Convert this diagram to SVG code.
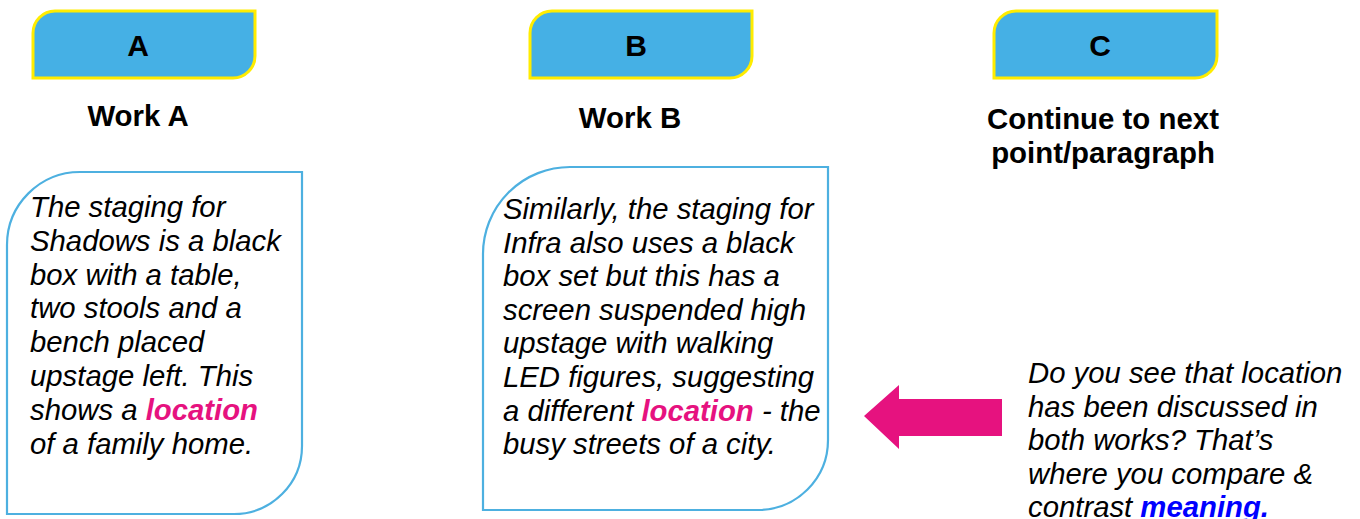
<svg xmlns="http://www.w3.org/2000/svg" width="1360" height="519" viewBox="0 0 1360 519">
<style>
.tab{fill:#45B0E5;stroke:#FFEC00;stroke-width:3}
.tabt{font-family:"Liberation Sans",Arial,sans-serif;font-weight:bold;font-size:30px;fill:#000;text-anchor:middle}
.title{font-family:"Liberation Sans",Arial,sans-serif;font-weight:bold;font-size:29.4px;fill:#000;text-anchor:middle}
.box{fill:#fff;stroke:#4DB0E0;stroke-width:2.2}
.body{font-family:"Liberation Sans",Arial,sans-serif;font-style:italic;font-size:29.3px;fill:#000}
.pink{fill:#E6127F;font-weight:bold}
.blue{fill:#0000FF;font-weight:bold}
</style>
<rect width="1360" height="519" fill="#fff"/>
<g id="nodeA">
<path class="tab" d="M33,78 V33 A22,22 0 0 1 55,11 H255 V56 A22,22 0 0 1 233,78 Z"/>
<text class="tabt" x="138" y="56">A</text>
<text class="title" x="138" y="126">Work A</text>
<path class="box" d="M7,514 V245 A73,73 0 0 1 80,172 H302 V446 A68,68 0 0 1 234,514 Z"/>
<text class="body" x="30"><tspan x="30" y="217">The staging for</tspan><tspan x="30" y="250.8">Shadows is a black</tspan><tspan x="30" y="284.6">box with a table,</tspan><tspan x="30" y="318.4">two stools and a</tspan><tspan x="30" y="352.2">bench placed</tspan><tspan x="30" y="386">upstage left. This</tspan><tspan x="30" y="419.8">shows a <tspan class="pink">location</tspan></tspan><tspan x="30" y="453.6">of a family home.</tspan></text>
</g>
<g id="nodeB">
<path class="tab" d="M530,78 V33 A22,22 0 0 1 552,11 H752 V56 A22,22 0 0 1 730,78 Z"/>
<text class="tabt" x="636" y="56">B</text>
<text class="title" x="630" y="128">Work B</text>
<path class="box" d="M483,510 V254 A87,87 0 0 1 570,167 H828 V440 A70,70 0 0 1 758,510 Z"/>
<text class="body"><tspan x="503" y="219">Similarly, the staging for</tspan><tspan x="503" y="252.6">Infra also uses a black</tspan><tspan x="503" y="286.2">box set but this has a</tspan><tspan x="503" y="319.8">screen suspended high</tspan><tspan x="503" y="353.4">upstage with walking</tspan><tspan x="503" y="387">LED figures, suggesting</tspan><tspan x="503" y="420.6">a different <tspan class="pink">location</tspan> - the</tspan><tspan x="503" y="454.2">busy streets of a city.</tspan></text>
</g>
<g id="nodeC">
<path class="tab" d="M994,78 V33 A22,22 0 0 1 1016,11 H1217 V56 A22,22 0 0 1 1195,78 Z"/>
<text class="tabt" x="1100" y="56">C</text>
<text class="title"><tspan x="1103" y="129">Continue to next</tspan><tspan x="1103" y="163">point/paragraph</tspan></text>
</g>
<g id="note">
<text class="body"><tspan x="1028" y="383">Do you see that location</tspan><tspan x="1028" y="416.6">has been discussed in</tspan><tspan x="1028" y="450.2">both works? That’s</tspan><tspan x="1028" y="483.8">where you compare &amp;</tspan><tspan x="1028" y="516.5">contrast <tspan class="blue">meaning.</tspan></tspan></text>
</g>
<g id="connectors">
<path d="M864,416 L899,385 V399 H1002 V436 H899 V449 Z" fill="#E6127F"/>
</g>
</svg>
